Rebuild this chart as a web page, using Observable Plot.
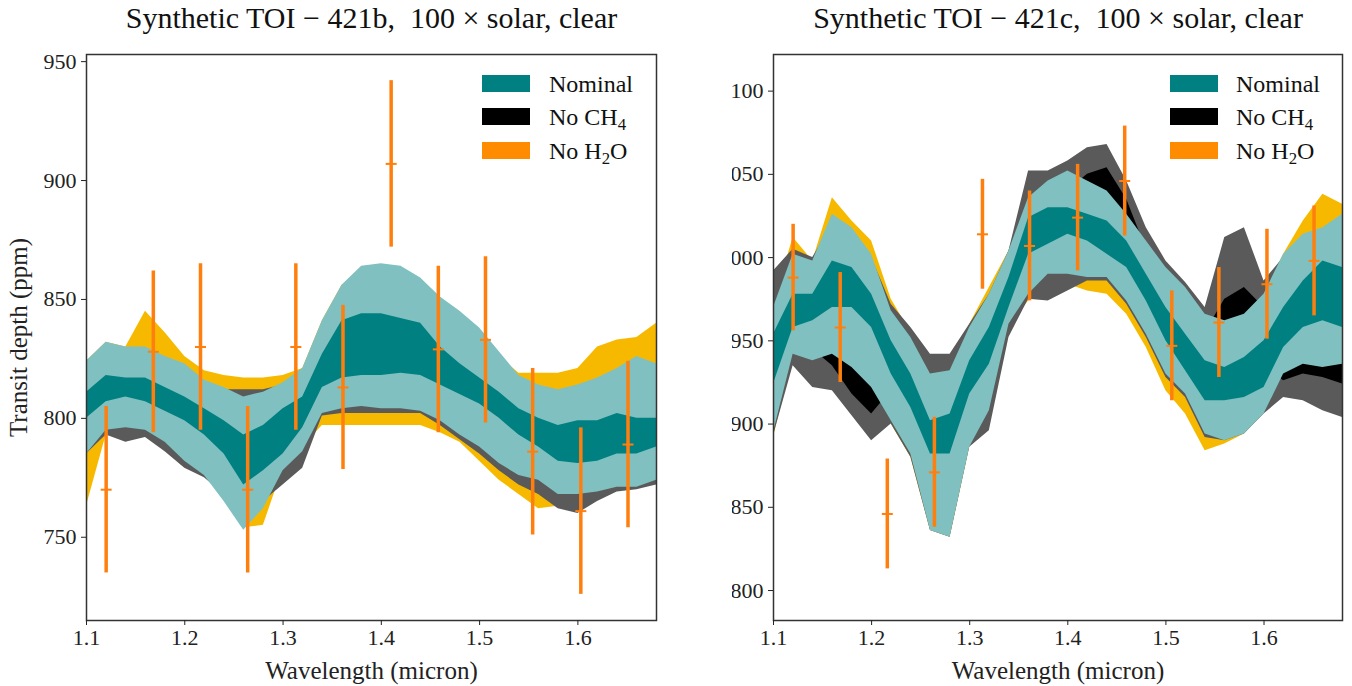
<!DOCTYPE html>
<html><head><meta charset="utf-8">
<script src="https://cdn.jsdelivr.net/npm/d3@7"></script>
<script src="https://cdn.jsdelivr.net/npm/@observablehq/plot@0.6"></script>
<style>
body{margin:0;background:#fff;}
#wrap{position:relative;width:1352px;height:686px;overflow:hidden;font-family:"Liberation Serif",serif;}
.panel{position:absolute;top:0;}
.sw{position:absolute;width:48px;height:17px;}
.lt{position:absolute;white-space:nowrap;font-size:24px;line-height:24px;color:#111;}
sub{font-size:70%;vertical-align:-0.3em;line-height:0;}
</style></head><body><div id="wrap"></div>
<script>
// wavelength grid (micron)
const wl = [1.10,1.12,1.14,1.16,1.18,1.20,1.22,1.24,1.26,1.28,1.30,1.32,1.34,1.36,1.38,1.40,1.42,1.44,1.46,1.48,1.50,1.52,1.54,1.56,1.58,1.60,1.62,1.64,1.66,1.68];

// TOI-421b: Nominal (1 and 2 sigma envelopes)
const bNomHi2 = [824,832,830,830,826,823,816,813,809,811,815,821,841,856,864,865,864,859,851,845,838,828,818,814,812,814,817,821,826,823];
const bNomHi1 = [811,818,817,817,813,809,804,799,793,797,804,809,827,841,844,844,842,840,830,823,817,811,804,800,797,799,799,802,800,800];
const bNomLo1 = [800,807,809,807,803,799,793,785,772,778,785,796,813,817,818,818,819,818,814,810,806,800,793,788,782,781,782,785,785,788];
const bNomLo2 = [785,795,796,795,790,782,776,765,753,762,778,786,802,804,805,804,804,803,799,793,788,781,776,774,768,768,769,771,771,774];
// TOI-421b: No CH4
const bCh4Hi2 = [823,831,829,829,825,822,815,812,812,812,814,820,840,855,862,862,862,858,850,844,837,827,817,813,811,813,816,820,825,822];
const bCh4Lo2 = [785,793,790,792,786,779,775,768,755,765,772,779,801,802,802,802,802,802,797,791,785,778,772,768,762,760,765,769,770,772];
// TOI-421b: No H2O
const bH2oHi2 = [824,832,830,845,836,826,820,818,817,817,818,821,841,856,860,860,860,855,848,842,835,826,819,819,819,821,830,833,834,840];
const bH2oLo2 = [763,793,797,797,792,784,778,767,754,755,779,788,797,797,797,797,797,797,794,790,782,774,768,762,763,766,770,771,771,774];

// TOI-421c: Nominal
const cNomHi2 = [970,1002,998,1026,1018,1002,968,952,930,932,958,978,1004,1036,1046,1052,1046,1040,1026,1010,994,982,966,962,966,978,1002,1014,1018,1026];
const cNomHi1 = [954,978,978,998,994,978,950,930,902,906,938,958,988,1024,1030,1030,1026,1022,1010,990,970,954,938,934,940,950,970,986,998,994];
const cNomLo1 = [924,958,962,970,970,958,930,910,882,882,918,936,970,1002,1008,1014,1010,1002,994,974,950,932,914,914,916,922,946,958,962,958];
const cNomLo2 = [895,942,938,942,934,922,902,882,836,832,886,908,960,978,990,990,988,988,974,954,930,918,894,890,894,906,930,936,934,936];
// TOI-421c: No CH4
const cCh4Hi2 = [992,1005,1000,1020,1015,1000,972,958,942,942,960,978,1004,1052,1052,1058,1066,1068,1046,1018,998,985,970,1012,1018,986,1000,1012,1016,1024];
const cCh4Hi1 = [965,985,980,995,990,975,955,940,925,925,945,960,990,1030,1035,1040,1050,1054,1035,1005,985,970,955,975,982,970,985,995,995,995];
const cCh4Lo1 = [940,950,945,935,918,906,920,905,880,880,910,925,962,995,1000,1005,1005,1000,990,970,950,930,915,935,940,935,926,930,928,924];
const cCh4Lo2 = [893,935,922,920,905,890,900,880,836,832,886,896,952,975,974,980,986,986,972,952,928,916,892,890,894,906,916,914,908,904];
// TOI-421c: No H2O
const cH2oHi2 = [972,1012,998,1036,1022,1010,975,955,930,932,960,982,1004,1036,1046,1050,1045,1040,1026,1010,994,982,966,962,966,978,1002,1022,1038,1032];
const cH2oLo2 = [892,940,936,940,932,920,900,880,836,832,886,906,958,974,984,984,980,978,966,946,920,906,884,888,894,906,930,936,934,936];

// synthetic observations
const wlObs = [1.120,1.168,1.216,1.264,1.313,1.361,1.410,1.458,1.506,1.554,1.603,1.651];
const bDepth = [770,828,830,770,830,813,907,829,833,786,761,789];
const bErr   = [35,34,35,35,35,34.5,35,35,35,35,35,35];
const cDepth = [988,958,846,871,1014,1007,1024,1046,947,961,984,998];
const cErr   = [32,33,33,33,33,33,32,33,33,33,33,33];

const xTicks = [1.1,1.2,1.3,1.4,1.5,1.6];
const bYTicks = [750,800,850,900,950];
const cYTicks = [800,850,900,950,1000,1050,1100];
const legendLabels = ["Nominal","No CH<sub>4</sub>","No H<sub>2</sub>O"];
const bTitle = "Synthetic TOI \u2212 421b,  100 \u00d7 solar, clear";
const cTitle = "Synthetic TOI \u2212 421c,  100 \u00d7 solar, clear";

const teal = "#008080", lightTeal = "#80c0c0", grey = "#5a5a5a", yellow = "#f7b900", errColor = "#ff7f0e";
const legendColors = [teal, "#000000", "#ff8c00"];

const hline = {draw(ctx, size){ const r = Math.sqrt(size/Math.PI); ctx.moveTo(-r,0); ctx.lineTo(r,0); }};

function panel(o){
  const idx = d3.range(wl.length);
  const obs = d3.range(wlObs.length);
  const band = (lo, hi, fill) => Plot.areaY(idx, {x: i=>wl[i], y1: i=>lo[i], y2: i=>hi[i], fill, curve:"linear"});
  return Plot.plot({
    width: o.width, height: 686,
    marginLeft: o.ml, marginRight: o.mr, marginTop: 54, marginBottom: 66,
    style: {fontFamily: '"Liberation Serif", serif', fontSize: "22px", color: "#222", background: "white", overflow: "hidden"},
    x: {domain: [1.1, 1.68]},
    y: {domain: o.yDomain},
    marks: [
      band(o.h2o[0], o.h2o[1], yellow),
      band(o.ch4[0], o.ch4[1], grey),
      o.ch4in ? band(o.ch4in[0], o.ch4in[1], "#000000") : null,
      band(o.nom[0], o.nom[1], lightTeal),
      band(o.nom[2], o.nom[3], teal),
      Plot.ruleX(obs, {x: i=>wlObs[i], y1: i=>o.depth[i]-o.err[i], y2: i=>o.depth[i]+o.err[i], stroke: errColor, strokeWidth: 3.5}),
      Plot.dot(obs, {x: i=>wlObs[i], y: i=>o.depth[i], symbol: hline, r: 5.5, stroke: errColor, strokeWidth: 2, fill: "none"}),
      Plot.frame({stroke: "#333", strokeWidth: 1.5}),
      Plot.axisX({ticks: xTicks, tickFormat: d=>d.toFixed(1), tickSize: 5, tickPadding: 4, label: null}),
      Plot.axisY({ticks: o.yTicks, tickFormat: d=>String(d), tickSize: 5, tickPadding: 5, label: null}),
      Plot.text([o.title], {frameAnchor: "top", lineAnchor: "middle", textAnchor: "middle", dy: -36, text: d=>d, fontSize: 30, fill: "#111"}),
      Plot.text(["Wavelength (micron)"], {frameAnchor: "bottom", lineAnchor: "middle", textAnchor: "middle", dy: 50, text: d=>d, fontSize: 25, fill: "#222"}),
      o.ylabel ? Plot.text([o.ylabel], {frameAnchor: "left", lineAnchor: "middle", textAnchor: "middle", dx: -68, rotate: -90, text: d=>d, fontSize: 25, fill: "#222"}) : null
    ]
  });
}

const wrap = document.getElementById("wrap");
const left = panel({width: 732, ml: 86, mr: 76, yDomain: [715, 953], yTicks: bYTicks,
  nom: [bNomLo2, bNomHi2, bNomLo1, bNomHi1], ch4: [bCh4Lo2, bCh4Hi2], h2o: [bH2oLo2, bH2oHi2],
  depth: bDepth, err: bErr, title: bTitle, ylabel: "Transit depth (ppm)"});
const right = panel({width: 620, ml: 41, mr: 10, yDomain: [782, 1122], yTicks: cYTicks,
  nom: [cNomLo2, cNomHi2, cNomLo1, cNomHi1], ch4: [cCh4Lo2, cCh4Hi2], ch4in: [cCh4Lo1, cCh4Hi1], h2o: [cH2oLo2, cH2oHi2],
  depth: cDepth, err: cErr, title: cTitle});
left.classList.add("panel"); left.style.left = "0px";
right.classList.add("panel"); right.style.left = "732px";
wrap.appendChild(left); wrap.appendChild(right);

function legend(swX, txtX){
  const rows = [83.5, 116.5, 150.5];
  legendLabels.forEach((lab, k) => {
    const s = document.createElement("div");
    s.className = "sw"; s.style.left = swX + "px"; s.style.top = (rows[k]-8.5) + "px"; s.style.background = legendColors[k];
    wrap.appendChild(s);
    const t = document.createElement("div");
    t.className = "lt"; t.style.left = txtX + "px"; t.style.top = (rows[k]-12) + "px"; t.innerHTML = lab;
    wrap.appendChild(t);
  });
}
legend(482, 549);
legend(1170, 1236);
</script>
</body></html>
